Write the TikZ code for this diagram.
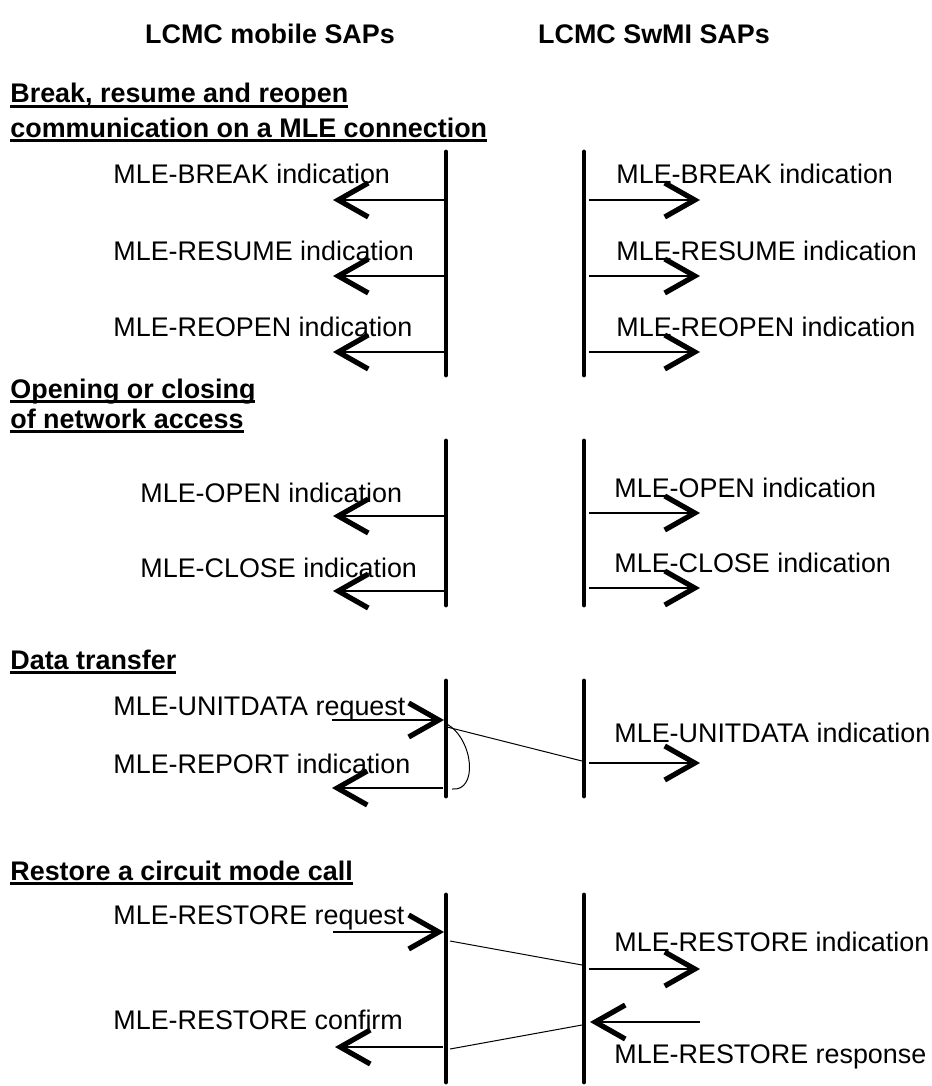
\documentclass[tikz,border=0pt]{standalone}
\usepackage{fontspec}
\setmainfont{Liberation Sans}
\usetikzlibrary{arrows.meta}

\newcommand\figsize{\fontsize{13.45}{16}\selectfont}
\newcommand\headul[1]{\setbox0\hbox{#1}\rlap{\vrule height -1pt depth 2.5pt width \wd0}\box0}

\tikzset{
  sap/.style={font=\figsize\bfseries, anchor=base, inner sep=0pt},
  secthead/.style={font=\figsize\bfseries, anchor=base west, inner sep=0pt},
  prim/.style={font=\figsize, anchor=base west, inner sep=0pt},
  life/.style={line width=2.4pt, line cap=round},
  sig/.style={line width=1.4pt, -{Straight Barb[length=15pt,width=17pt,line width=2.6pt]}},
  link/.style={line width=0.5pt}
}

\begin{document}
\begin{tikzpicture}[x=0.5pt,y=-0.5pt]
\useasboundingbox (0,0) rectangle (931,1086);

\node[sap] (mob) at (270,44) {LCMC mobile SAPs};
\node[sap] (swmi) at (654,44) {LCMC SwMI SAPs};

% break, resume, reopen
\node[secthead] (brk1) at (10,103) {\headul{Break, resume and reopen}};
\node[secthead] (brk2) at (10,137) {\headul{communication on a MLE connection}};
\coordinate (m1t) at (446,152); \coordinate (m1b) at (446,375);
\coordinate (s1t) at (584,152); \coordinate (s1b) at (584,375);
\draw[life] (m1t) -- (m1b);
\draw[life] (s1t) -- (s1b);
\foreach \n/\y/\t in {brk/200/BREAK,res/276/RESUME,reo/352/REOPEN}{
  \coordinate (ms-\n) at (444,\y); \coordinate (me-\n) at (333,\y);
  \coordinate (ss-\n) at (589,\y); \coordinate (se-\n) at (700,\y);
  \node[prim] (ml-\n) at (113,\y-16) {MLE-\t{} indication};
  \node[prim] (sl-\n) at (616,\y-16) {MLE-\t{} indication};
  \draw[sig] (ms-\n) -- (me-\n);
  \draw[sig] (ss-\n) -- (se-\n);
}

% opening or closing
\node[secthead] (opn1) at (10,398) {\headul{Opening or closing}};
\node[secthead] (opn2) at (10,428) {\headul{of network access}};
\coordinate (m2t) at (446,441); \coordinate (m2b) at (446,605);
\coordinate (s2t) at (584,441); \coordinate (s2b) at (584,605);
\draw[life] (m2t) -- (m2b);
\draw[life] (s2t) -- (s2b);
\foreach \n/\ym/\ys/\t in {opn/516/513/OPEN,cls/591/588/CLOSE}{
  \coordinate (ms-\n) at (444,\ym); \coordinate (me-\n) at (333,\ym);
  \coordinate (ss-\n) at (589,\ys); \coordinate (se-\n) at (700,\ys);
  \node[prim] (ml-\n) at (140,\ym-14) {MLE-\t{} indication};
  \node[prim] (sl-\n) at (614,\ys-16) {MLE-\t{} indication};
  \draw[sig] (ms-\n) -- (me-\n);
  \draw[sig] (ss-\n) -- (se-\n);
}

% data transfer
\node[secthead] (dat) at (10,669) {\headul{Data transfer}};
\coordinate (m3t) at (446,681); \coordinate (m3b) at (446,796);
\coordinate (s3t) at (584,681); \coordinate (s3b) at (584,796);
\draw[life] (m3t) -- (m3b);
\draw[life] (s3t) -- (s3b);
\node[prim] (udreq) at (113,715) {MLE-UNITDATA request};
\node[prim] (udind) at (614,742) {MLE-UNITDATA indication};
\node[prim] (rpind) at (113,773) {MLE-REPORT indication};
\coordinate (udq-s) at (332,720); \coordinate (udq-e) at (444,720);
\coordinate (udl-a) at (447,727); \coordinate (udl-b) at (582,761);
\coordinate (udi-s) at (589,763); \coordinate (udi-e) at (700,763);
\coordinate (rp-s) at (443,788); \coordinate (rp-e) at (332,788);
\coordinate (rpc-a) at (447,724); \coordinate (rpc-b) at (452,789);
\draw[sig] (udq-s) -- (udq-e);
\draw[link] (udl-a) -- (udl-b);
\draw[sig] (udi-s) -- (udi-e);
\draw[link] (rpc-a) .. controls (474,740) and (478,792) .. (rpc-b);
\draw[sig] (rp-s) -- (rp-e);

% restore
\node[secthead] (rst) at (10,880) {\headul{Restore a circuit mode call}};
\coordinate (m4t) at (446,895); \coordinate (m4b) at (446,1082);
\coordinate (s4t) at (584,895); \coordinate (s4b) at (584,1082);
\draw[life] (m4t) -- (m4b);
\draw[life] (s4t) -- (s4b);
\node[prim] (rsreq) at (113,924) {MLE-RESTORE request};
\node[prim] (rsind) at (614,951) {MLE-RESTORE indication};
\node[prim] (rsrsp) at (614,1063) {MLE-RESTORE response};
\node[prim] (rscnf) at (113,1029) {MLE-RESTORE confirm};
\coordinate (rq-s) at (333,932); \coordinate (rq-e) at (444,932);
\coordinate (rql-a) at (450,941); \coordinate (rql-b) at (582,965);
\coordinate (ri-s) at (589,969); \coordinate (ri-e) at (700,969);
\coordinate (rr-s) at (700,1022); \coordinate (rr-e) at (590,1022);
\coordinate (rcl-a) at (582,1025); \coordinate (rcl-b) at (450,1049);
\coordinate (rc-s) at (443,1047); \coordinate (rc-e) at (335,1047);
\draw[sig] (rq-s) -- (rq-e);
\draw[link] (rql-a) -- (rql-b);
\draw[sig] (ri-s) -- (ri-e);
\draw[sig] (rr-s) -- (rr-e);
\draw[link] (rcl-a) -- (rcl-b);
\draw[sig] (rc-s) -- (rc-e);
\end{tikzpicture}
\end{document}
